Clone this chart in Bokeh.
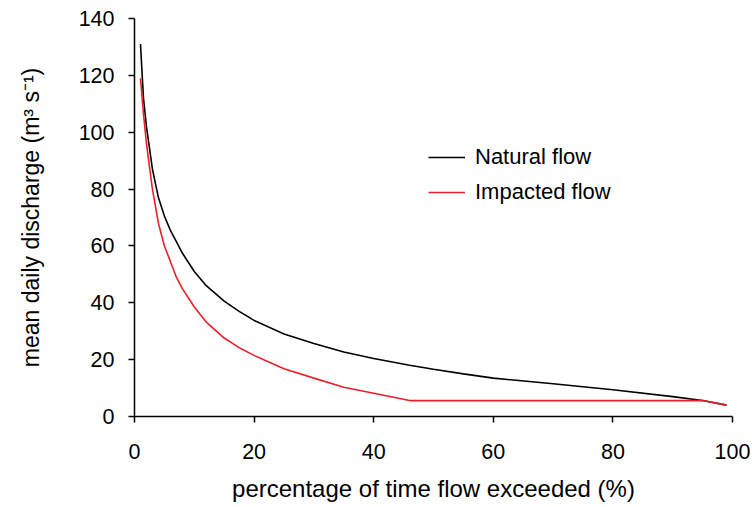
from bokeh.plotting import figure
from bokeh.models import Range1d, Legend, LegendItem, ColumnDataSource
from bokeh.embed import file_html
from bokeh.resources import INLINE

# ---- data ----
pct_exceeded = [1, 1.5, 2, 3, 4, 5, 6, 7, 8, 10, 12, 15, 17.5, 20, 25, 30, 35, 40, 46, 50, 55, 60, 70, 80, 90, 95, 99]
natural_flow = [131, 112, 102, 87, 77, 70.5, 65.5, 61.5, 57.5, 51, 46, 40.6, 37, 33.8, 29, 25.7, 22.7, 20.4, 18.0, 16.6, 15.0, 13.5, 11.5, 9.4, 7.0, 5.6, 4.0]
impacted_flow = [119, 106.5, 96, 80, 68, 60, 54.5, 49, 45, 38.5, 33.2, 27.6, 24.2, 21.5, 16.8, 13.5, 10.3, 8.2, 5.6, 5.6, 5.6, 5.6, 5.6, 5.6, 5.6, 5.6, 4.0]
series_names = ["Natural flow", "Impacted flow"]
x_ticks = [0, 20, 40, 60, 80, 100]
y_ticks = [0, 20, 40, 60, 80, 100, 120, 140]

FONT = "Liberation Sans"

src = ColumnDataSource(dict(x=pct_exceeded, nat=natural_flow, imp=impacted_flow))

p = figure(width=750, height=505, output_backend="svg", toolbar_location=None,
           x_range=Range1d(0, 100), y_range=Range1d(0, 140),
           min_border_left=134, min_border_right=18, min_border_top=18, min_border_bottom=89)
p.outline_line_color = None
p.grid.visible = False
p.background_fill_color = "white"
p.border_fill_color = "white"

r1 = p.line("x", "nat", source=src, line_color="#000000", line_width=1.6)
r2 = p.line("x", "imp", source=src, line_color="#e8202a", line_width=1.6)

for ax in (p.xaxis[0], p.yaxis[0]):
    ax.axis_line_color = "black"
    ax.axis_line_width = 1.5
    ax.major_tick_line_color = "black"
    ax.major_tick_line_width = 1.5
    ax.major_tick_in = 0
    ax.major_tick_out = 6
    ax.minor_tick_line_color = None
    ax.major_label_text_font = FONT
    ax.major_label_text_font_size = "21.5px"
    ax.major_label_text_color = "black"
    ax.axis_label_text_font = FONT
    ax.axis_label_text_font_style = "normal"
    ax.axis_label_text_color = "black"

p.xaxis.ticker = x_ticks
p.yaxis.ticker = y_ticks
p.xaxis.major_label_standoff = 21
p.yaxis.major_label_standoff = 14
p.xaxis.axis_label = "percentage of time flow exceeded (%)"
p.yaxis.axis_label = "mean daily discharge (m\u00b3 s\u207b\u00b9)"
p.xaxis.axis_label_text_font_size = "24px"
p.yaxis.axis_label_text_font_size = "23px"
p.xaxis.axis_label_standoff = 13
p.yaxis.axis_label_standoff = 32

legend = Legend(items=[LegendItem(label=series_names[0], renderers=[r1]),
                       LegendItem(label=series_names[1], renderers=[r2])],
                location=(294, 211), orientation="vertical")
legend.border_line_color = None
legend.background_fill_alpha = 0
legend.padding = 0
legend.margin = 0
legend.spacing = 9
legend.glyph_width = 37
legend.label_standoff = 10
legend.label_text_font = FONT
legend.label_text_font_size = "22px"
legend.label_text_color = "black"
p.add_layout(legend, "center")

open("out.html", "w").write(file_html(p, INLINE))
